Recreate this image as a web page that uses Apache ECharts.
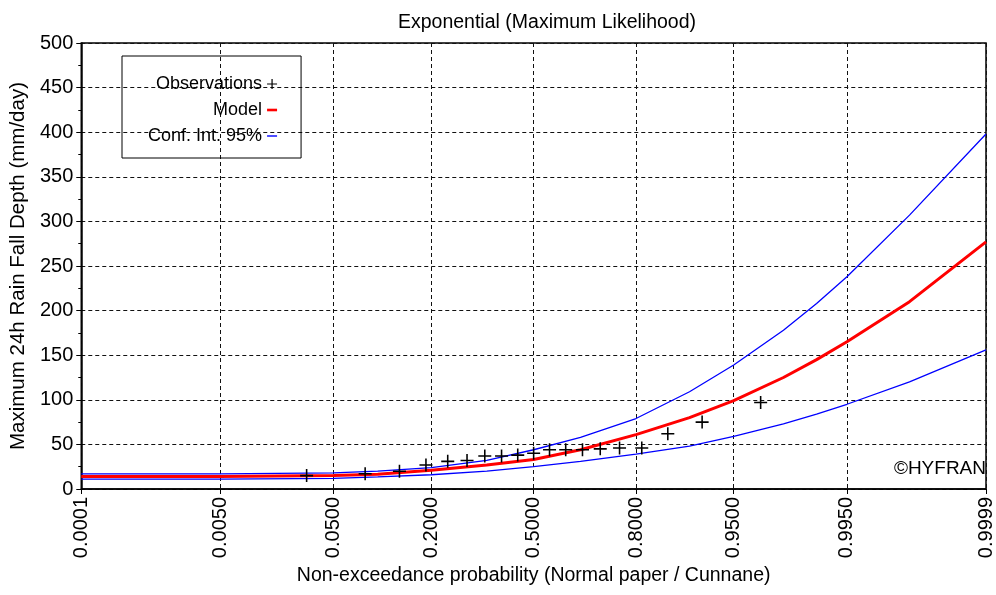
<!DOCTYPE html>
<html>
<head>
<meta charset="utf-8">
<title>Exponential (Maximum Likelihood)</title>
<script src="https://cdn.jsdelivr.net/npm/echarts@6/dist/echarts.min.js"></script>
<style>
    html, body { margin: 0; padding: 0; background: #fff; }
    #chart { width: 996px; height: 595px; }
</style>
</head>
<body>
<div id="chart"></div>
<script>
// x axis ticks (non-exceedance probability)
const tickProbs = [0.0001, 0.005, 0.05, 0.2, 0.5, 0.8, 0.95, 0.995, 0.9999];
const tickLabels = ['0.0001', '0.0050', '0.0500', '0.2000', '0.5000', '0.8000', '0.9500', '0.9950', '0.9999'];

// observations (Cunnane plotting positions)
const obsProbs = [0.031, 0.083, 0.135, 0.188, 0.240, 0.292, 0.344, 0.396, 0.448, 0.500,
    0.552, 0.604, 0.656, 0.708, 0.760, 0.813, 0.865, 0.917, 0.969];
const obsValues = [15, 17, 20, 27, 31, 32, 37, 37, 38, 40, 44, 44, 44, 45, 46, 46, 62, 75, 97];

// fitted model and 95% confidence band
const curveProbs = [0.0001, 0.005, 0.05, 0.1, 0.2, 0.35, 0.5, 0.65, 0.8, 0.9, 0.95, 0.98, 0.99, 0.995, 0.999, 0.9999];
const modelValues = [14, 14, 15, 16.5, 21, 27, 33, 44, 61, 80, 99, 125, 145, 165, 210, 277];
const upperValues = [17, 17, 18, 20, 24, 32, 44, 58, 79, 109, 139, 178, 208, 238, 307, 398];
const lowerValues = [11, 11, 12, 13.5, 16, 20, 25, 31, 39, 48, 59, 73, 84, 95, 120, 156];

// inverse normal cdf (Acklam) -> normal probability paper
function probit(p) {
    const a = [-3.969683028665376e+01, 2.209460984245205e+02, -2.759285104469687e+02,
        1.383577518672690e+02, -3.066479806614716e+01, 2.506628277459239e+00];
    const b = [-5.447609879822406e+01, 1.615858368580409e+02, -1.556989798598866e+02,
        6.680131188771972e+01, -1.328068155288572e+01];
    const c = [-7.784894002430293e-03, -3.223964580411365e-01, -2.400758277161838e+00,
        -2.549732539343734e+00, 4.374664141464968e+00, 2.938163982698783e+00];
    const d = [7.784695709041462e-03, 3.224671290700398e-01, 2.445134137142996e+00,
        3.754408661907416e+00];
    const plow = 0.02425;
    let q, r;
    if (p < plow) {
        q = Math.sqrt(-2 * Math.log(p));
        return (((((c[0] * q + c[1]) * q + c[2]) * q + c[3]) * q + c[4]) * q + c[5]) /
            ((((d[0] * q + d[1]) * q + d[2]) * q + d[3]) * q + 1);
    }
    if (p <= 1 - plow) {
        q = p - 0.5;
        r = q * q;
        return (((((a[0] * r + a[1]) * r + a[2]) * r + a[3]) * r + a[4]) * r + a[5]) * q /
            (((((b[0] * r + b[1]) * r + b[2]) * r + b[3]) * r + b[4]) * r + 1);
    }
    q = Math.sqrt(-2 * Math.log(1 - p));
    return -(((((c[0] * q + c[1]) * q + c[2]) * q + c[3]) * q + c[4]) * q + c[5]) /
        ((((d[0] * q + d[1]) * q + d[2]) * q + d[3]) * q + 1);
}

const tickZ = tickProbs.map(probit);
const pairs = (probs, vals) => probs.map((p, i) => [probit(p), vals[i]]);

const font = 'Liberation Sans, Arial, sans-serif';
const plusPath = 'path://M4.4,0H5.6V10H4.4Z M0,4.4H10V5.6H0Z';
const gridLine = { show: true, lineStyle: { color: '#111', width: 1, type: [4, 3] } };

const chart = echarts.init(document.getElementById('chart'));

chart.setOption({
    animation: false,
    backgroundColor: '#fff',
    title: {
        text: 'Exponential (Maximum Likelihood)',
        left: 542,
        top: 8,
        textAlign: 'center',
        textStyle: { fontFamily: font, fontSize: 19.5, fontWeight: 'normal', color: '#000' }
    },
    legend: {
        orient: 'vertical',
        align: 'right',
        left: 122,
        top: 56,
        padding: [19, 24, 13, 26],
        itemGap: 8,
        itemWidth: 10,
        itemHeight: 10,
        borderColor: '#000',
        borderWidth: 1,
        textStyle: { fontFamily: font, fontSize: 18, color: '#000' },
        data: [
            { name: 'Observations', icon: plusPath, itemStyle: { opacity: 1 } },
            { name: 'Model', icon: 'path://M0,0H10V2.6H0Z' },
            { name: 'Conf. Int. 95%', icon: 'path://M0,0H10V1.4H0Z' }
        ]
    },
    grid: {
        left: 79,
        top: 43,
        right: 9,
        bottom: 106,
        show: true,
        borderColor: '#000',
        borderWidth: 1.5
    },
    xAxis: {
        type: 'value',
        min: tickZ[0],
        max: tickZ[tickZ.length - 1],
        name: 'Non-exceedance probability (Normal paper / Cunnane)',
        nameLocation: 'middle',
        nameGap: 77,
        nameTextStyle: { fontFamily: font, fontSize: 19.5, color: '#000' },
        axisLine: { onZero: false, lineStyle: { color: '#000', width: 1.5 } },
        axisTick: { show: true, length: 5, customValues: tickZ, lineStyle: { color: '#000' } },
        axisLabel: {
            customValues: tickZ,
            rotate: 90,
            margin: 8,
            fontFamily: font,
            fontSize: 20,
            color: '#000',
            formatter: (v) => {
                let best = 0;
                tickZ.forEach((z, i) => { if (Math.abs(z - v) < Math.abs(tickZ[best] - v)) best = i; });
                return tickLabels[best];
            }
        },
        splitLine: gridLine
    },
    yAxis: {
        type: 'value',
        min: 0,
        max: 500,
        interval: 50,
        name: 'Maximum 24h Rain Fall Depth (mm/day)',
        nameLocation: 'middle',
        nameGap: 47,
        nameTextStyle: { fontFamily: font, fontSize: 20.5, color: '#000' },
        axisLine: { show: true, onZero: false, lineStyle: { color: '#000', width: 1.5 } },
        axisTick: { show: true, length: 5, lineStyle: { color: '#000' } },
        minorTick: { show: true, splitNumber: 2, length: 3, lineStyle: { color: '#000' } },
        axisLabel: { margin: 8, fontFamily: font, fontSize: 20, color: '#000' },
        splitLine: gridLine
    },
    graphic: [{
        type: 'text',
        right: 10,
        top: 459,
        style: { text: '©HYFRAN', font: '19px ' + font, fill: '#000' }
    }],
    series: [
        {
            name: 'Conf. Int. 95%',
            type: 'line',
            data: pairs(curveProbs, upperValues),
            showSymbol: false,
            color: '#0000ff',
            lineStyle: { width: 1.3, color: '#0000ff' }
        },
        {
            name: 'Conf. Int. 95%',
            type: 'line',
            data: pairs(curveProbs, lowerValues),
            showSymbol: false,
            color: '#0000ff',
            lineStyle: { width: 1.3, color: '#0000ff' }
        },
        {
            name: 'Model',
            type: 'line',
            data: pairs(curveProbs, modelValues),
            showSymbol: false,
            color: '#ff0000',
            lineStyle: { width: 3, color: '#ff0000' }
        },
        {
            name: 'Observations',
            type: 'scatter',
            data: pairs(obsProbs, obsValues),
            symbol: plusPath,
            symbolSize: 13,
            color: '#000',
            itemStyle: { color: '#000', opacity: 1 },
            z: 5
        }
    ]
});
</script>
</body>
</html>
